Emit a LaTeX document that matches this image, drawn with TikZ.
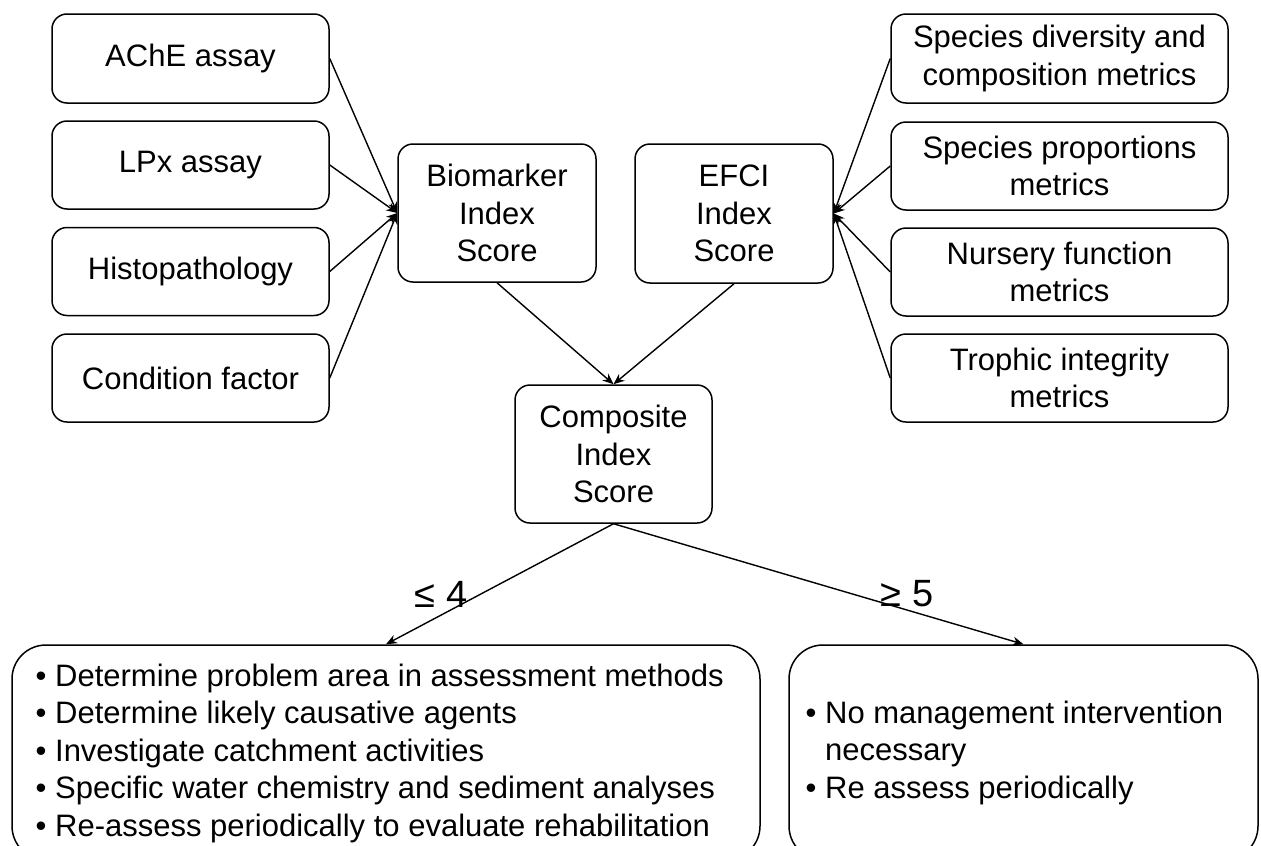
\documentclass[tikz,border=0pt]{standalone}
\usepackage{fontspec}
\setmainfont{Liberation Sans}
\usetikzlibrary{arrows.meta}
\begin{document}
\begin{tikzpicture}[x=1pt,y=-1pt,
  every node/.style={font=\fontsize{31}{37.5}\selectfont, inner sep=0pt},
  box/.style={draw, line width=1.5pt, rounded corners=15pt, align=center},
  bigbox/.style={draw, line width=1.5pt, rounded corners=34pt},
  listtxt/.style={align=left, anchor=base west},
  lbl/.style={font=\fontsize{38}{44}\selectfont},
  arr/.style={-{Stealth[length=11pt,width=9pt]}, line width=1.4pt}
]
\useasboundingbox (0,0) rectangle (1261,846);
\clip (0,0) rectangle (1261,846);
% left column
\node[box, minimum width=277, minimum height=89] (ache) at (190.5,58.5) {AChE assay};
\node[box, minimum width=277, minimum height=88] (lpx) at (190.5,165) {LPx assay};
\node[box, minimum width=277, minimum height=88] (histo) at (190.5,271.5) {Histopathology};
\node[box, minimum width=277, minimum height=88] (cond) at (190.5,378) {Condition factor};
% right column
\node[box, minimum width=337, minimum height=89] (div) at (1059.5,58.5) {Species diversity and\\composition metrics};
\node[box, minimum width=337, minimum height=88] (prop) at (1059.5,166) {Species proportions\\metrics};
\node[box, minimum width=337, minimum height=88] (nurs) at (1059.5,272) {Nursery function\\metrics};
\node[box, minimum width=337, minimum height=88] (troph) at (1059.5,378) {Trophic integrity\\metrics};
% index boxes
\node[box, minimum width=198, minimum height=138] (bio) at (497,213) {Biomarker\\Index\\Score};
\node[box, minimum width=198, minimum height=139] (efci) at (734,213.5) {EFCI\\Index\\Score};
\node[box, minimum width=197, minimum height=138] (comp) at (613.5,454) {Composite\\Index\\Score};
% bottom boxes
\node[bigbox, minimum width=748, minimum height=215] (low) at (386,752.5) {};
\node[bigbox, minimum width=469, minimum height=215] (high) at (1023.5,752.5) {};
\node[listtxt] (lowtxt) at (35.5,836) {• Determine problem area in assessment methods\\• Determine likely causative agents\\• Investigate catchment activities\\• Specific water chemistry and sediment analyses\\• Re-assess periodically to evaluate rehabilitation};
\node[listtxt] (hightxt) at (805.5,798) {• No management intervention\\\hphantom{• }necessary\\• Re assess periodically};
% labels
\node[lbl] (le) at (441,594) {≤ 4};
\node[lbl] (ge) at (907,594) {≥ 5};
% connectors
\foreach \n in {ache,lpx,histo,cond} \draw[arr] (\n.east) -- (bio.west);
\foreach \n in {div,prop,nurs,troph} \draw[arr] (\n.west) -- (efci.east);
\draw[arr] (bio.south) -- (comp.north);
\draw[arr] (efci.south) -- (comp.north);
\draw[arr] (comp.south) -- (low.north);
\draw[arr] (comp.south) -- (high.north);
\end{tikzpicture}
\end{document}
